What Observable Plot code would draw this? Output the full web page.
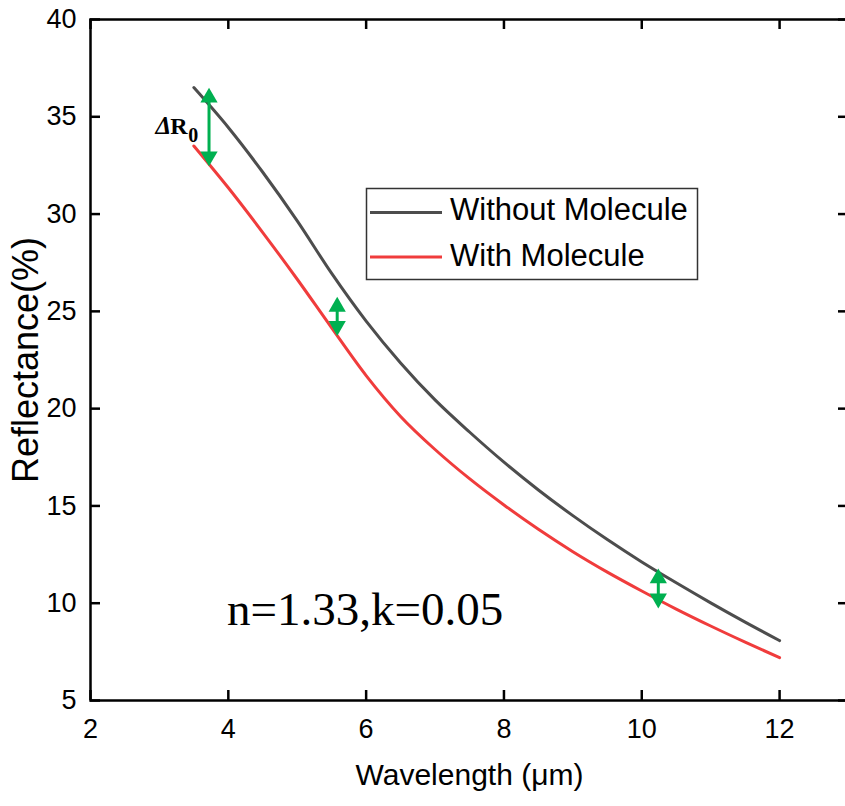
<!DOCTYPE html>
<html><head><meta charset="utf-8">
<script src="https://cdn.jsdelivr.net/npm/d3@7"></script>
<script src="https://cdn.jsdelivr.net/npm/@observablehq/plot@0.6"></script>
<style>
html,body{margin:0;padding:0;background:#fff;overflow:hidden;}
#wrap{position:relative;width:850px;height:806px;}
#legend{position:absolute;left:0;top:0;pointer-events:none;}
</style></head><body><div id="wrap"></div>
<script>
// ---- data ----
const wavelength = [3.5,4.0,4.5,5.0,5.5,6.0,6.5,7.0,7.5,8.0,8.5,9.0,9.5,10.0,10.5,11.0,11.5,12.0];
const withoutMolecule = [36.5,34.45,32.15,29.65,26.95,24.5,22.35,20.45,18.8,17.25,15.82,14.5,13.27,12.12,11.05,10.02,9.03,8.08];
const withMolecule = [33.5,31.35,29.05,26.65,24.15,21.7,19.6,17.9,16.4,15.05,13.8,12.65,11.6,10.63,9.7,8.83,8.0,7.2];
const seriesNames = ["Without Molecule", "With Molecule"];
const seriesColors = ["#4d4d4d", "#f03c3c"];
const arrowX = [3.72, 5.58, 10.24];
const arrowTop = [36.5, 25.75, 11.79];
const arrowBottom = [32.45, 23.73, 9.73];
const xTicks = [2,4,6,8,10,12];
const yTicks = [5,10,15,20,25,30,35,40];
const xLabel = "Wavelength (\u03bcm)";
const yLabel = "Reflectance(%)";
const noteText = ["n=1.33,k=0.05"];
const noteX = [3.98];
const noteY = [8.88];
const deltaLabel = ["\u0394", "R", "0"];
const deltaX = [3.17, 3.408, 3.42];
const deltaY = [34.11, 34.11, 33.72];

// ---- build ----
const lines = [];
wavelength.forEach((w, i) => {
  lines.push({x: w, y: withoutMolecule[i], s: seriesNames[0]});
  lines.push({x: w, y: withMolecule[i], s: seriesNames[1]});
});
const arrows = arrowX.map((x, i) => ({x, top: arrowTop[i], bottom: arrowBottom[i]}));
const green = "#00b050";
const W = 850, H = 806, mL = 90, mR = 2, mT = 19, mB = 106;
const fw = W - mL - mR, fh = H - mT - mB;
const sans = "'Liberation Sans', Arial, Helvetica, sans-serif";
const serif = "'Liberation Serif', 'Times New Roman', Times, serif";

const chart = Plot.plot({
  width: W, height: H,
  marginLeft: mL, marginRight: mR, marginTop: mT, marginBottom: mB,
  style: {fontFamily: sans, background: "#fff", color: "#000"},
  x: {domain: [2, 13]},
  y: {domain: [5, 40]},
  color: {domain: seriesNames, range: seriesColors},
  marks: [
    Plot.line(lines, {x: "x", y: "y", z: "s", stroke: "s", strokeWidth: 3, curve: "monotone-x"}),
    Plot.ruleX(arrows, {x: "x", y1: "top", y2: "bottom", stroke: green, strokeWidth: 3, insetTop: 8, insetBottom: 8}),
    Plot.dot(arrows, {x: "x", y: "top", symbol: "triangle", r: 6.4, fill: green, stroke: "none", dy: 10}),
    Plot.dot(arrows, {x: "x", y: "bottom", symbol: "triangle", r: 6.4, fill: green, stroke: "none", rotate: 180, dy: -10}),
    Plot.tickX(xTicks, {x: d => d, stroke: "#000", strokeWidth: 2.5, insetTop: fh - 10}),
    Plot.tickX(xTicks, {x: d => d, stroke: "#000", strokeWidth: 2.5, insetBottom: fh - 10}),
    Plot.tickY(yTicks, {y: d => d, stroke: "#000", strokeWidth: 2.5, insetRight: fw - 10}),
    Plot.tickY(yTicks, {y: d => d, stroke: "#000", strokeWidth: 2.5, insetLeft: fw - 10}),
    Plot.frame({stroke: "#000", strokeWidth: 2.5}),
    Plot.axisX(xTicks, {tickSize: 0, tickPadding: 18, fontSize: 27, label: null}),
    Plot.axisY(yTicks, {tickSize: 0, tickPadding: 14, fontSize: 27, label: null}),
    Plot.text([xLabel], {frameAnchor: "bottom", dy: 75, fontSize: 30, textAnchor: "middle", lineAnchor: "middle", fill: "#000"}),
    Plot.text([yLabel], {frameAnchor: "left", dx: -64, rotate: -90, fontSize: 36, textAnchor: "middle", lineAnchor: "middle", fill: "#000"}),
    Plot.text(noteText, {x: (d, i) => noteX[i], y: (d, i) => noteY[i], text: d => d, textAnchor: "start", lineAnchor: "bottom", fontSize: 47, fontFamily: serif, fill: "#000"}),
    Plot.text([deltaLabel[0]], {x: () => deltaX[0], y: () => deltaY[0], text: d => d, textAnchor: "end", lineAnchor: "bottom", fontSize: 25, fontWeight: "bold", fontStyle: "italic", fontFamily: serif, fill: "#000"}),
    Plot.text([deltaLabel[1]], {x: () => deltaX[1], y: () => deltaY[1], text: d => d, textAnchor: "end", lineAnchor: "bottom", fontSize: 24, fontWeight: "bold", fontFamily: serif, fill: "#000"}),
    Plot.text([deltaLabel[2]], {x: () => deltaX[2], y: () => deltaY[2], text: d => d, textAnchor: "start", lineAnchor: "bottom", fontSize: 20, fontWeight: "bold", fontFamily: serif, fill: "#000"})
  ]
});
const wrap = document.getElementById("wrap");
wrap.appendChild(chart);

// ---- legend (overlay) ----
const NS = "http://www.w3.org/2000/svg";
const lg = document.createElementNS(NS, "svg");
lg.setAttribute("id", "legend");
lg.setAttribute("width", W); lg.setAttribute("height", H);
const box = document.createElementNS(NS, "rect");
box.setAttribute("x", 366.5); box.setAttribute("y", 188.5);
box.setAttribute("width", 331); box.setAttribute("height", 91);
box.setAttribute("fill", "#fff"); box.setAttribute("stroke", "#333"); box.setAttribute("stroke-width", 1.5);
lg.appendChild(box);
const rowY = [212.5, 257];
seriesNames.forEach((name, i) => {
  const ln = document.createElementNS(NS, "line");
  ln.setAttribute("x1", 370); ln.setAttribute("x2", 442);
  ln.setAttribute("y1", rowY[i]); ln.setAttribute("y2", rowY[i]);
  ln.setAttribute("stroke", seriesColors[i]); ln.setAttribute("stroke-width", 3);
  lg.appendChild(ln);
  const tx = document.createElementNS(NS, "text");
  tx.setAttribute("x", 450); tx.setAttribute("y", rowY[i] + 7 + (i ? 1.5 : 0));
  tx.setAttribute("font-family", sans); tx.setAttribute("font-size", 31);
  tx.setAttribute("fill", "#000");
  tx.textContent = name;
  lg.appendChild(tx);
});
wrap.appendChild(lg);
</script>
</body></html>
